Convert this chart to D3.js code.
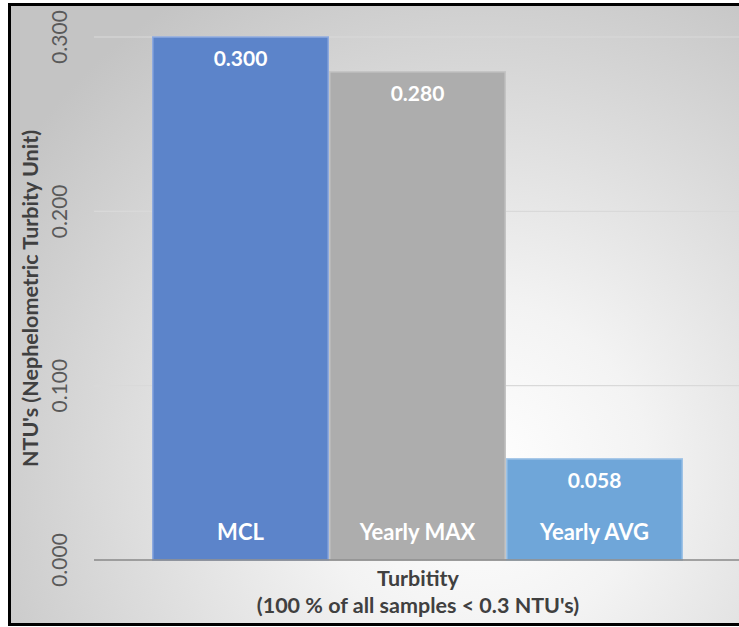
<!DOCTYPE html>
<html><head><meta charset="utf-8">
<script src="https://cdn.jsdelivr.net/npm/d3@7"></script>
<style>html,body{margin:0;padding:0;background:#fff;}svg{display:block;}</style>
</head><body>
<script>
const categories = ["MCL", "Yearly MAX", "Yearly AVG"];
const values = [0.300, 0.280, 0.058];
const valueLabels = ["0.300", "0.280", "0.058"];
const colors = ["#5c84ca", "#adadad", "#6fa6d9"];
const strokes = ["#8eaadf", "#c4c4c4", "#9fc3e6"];
const yTicks = [0, 0.1, 0.2, 0.3];
const yTitle = "NTU's (Nephelometric Turbity Unit)";
const xTitle = ["Turbitity", "(100 % of all samples < 0.3 NTU's)"];

const W = 739, H = 627;
const svg = d3.select("body").append("svg").attr("width", W).attr("height", H);
const defs = svg.append("defs");
const grad = defs.append("radialGradient").attr("id", "bg")
  .attr("gradientUnits", "userSpaceOnUse").attr("cx", 480).attr("cy", 470).attr("r", 560);
grad.append("stop").attr("offset", "0%").attr("stop-color", "#ffffff");
grad.append("stop").attr("offset", "30%").attr("stop-color", "#f3f3f3");
grad.append("stop").attr("offset", "100%").attr("stop-color", "#c4c4c4");

svg.append("rect").attr("x", 9.5).attr("y", 4.5).attr("width", W + 10).attr("height", 620)
  .attr("fill", "url(#bg)").attr("stroke", "#000").attr("stroke-width", 3);

const font = "Lato, 'Open Sans', sans-serif";
const x = d3.scaleBand().domain(categories).range([152, 683]).padding(0);
const y = d3.scaleLinear().domain([0, 0.3]).range([560, 37]);

// gridlines
svg.append("g").selectAll("line").data(yTicks.filter(t => t > 0)).join("line")
  .attr("x1", 94).attr("x2", W).attr("y1", d => y(d)).attr("y2", d => y(d))
  .attr("stroke", "#d9d9d9").attr("stroke-width", 1.2);

// bars
svg.append("g").selectAll("rect").data(categories).join("rect")
  .attr("x", d => x(d) + 0.75)
  .attr("width", x.bandwidth() - 1.5)
  .attr("y", (d, i) => y(values[i]))
  .attr("height", (d, i) => y(0) - y(values[i]))
  .attr("fill", (d, i) => colors[i])
  .attr("stroke", (d, i) => strokes[i]).attr("stroke-width", 1.5);

// baseline
svg.append("line").attr("x1", 94).attr("x2", W).attr("y1", y(0)).attr("y2", y(0))
  .attr("stroke", "#888").attr("stroke-width", 1.5);

// value labels
svg.append("g").selectAll("text").data(categories).join("text")
  .attr("x", d => x(d) + x.bandwidth() / 2)
  .attr("y", (d, i) => y(values[i]) + 29)
  .attr("text-anchor", "middle").attr("fill", "#fff")
  .attr("font-family", font).attr("font-weight", "bold").attr("font-size", 21)
  .text((d, i) => valueLabels[i]);

// category labels inside bars
svg.append("g").selectAll("text").data(categories).join("text")
  .attr("x", d => x(d) + x.bandwidth() / 2)
  .attr("y", 540)
  .attr("text-anchor", "middle").attr("fill", "#fff")
  .attr("font-family", font).attr("font-weight", "bold").attr("font-size", 22)
  .text(d => d);

// y tick labels (rotated)
svg.append("g").selectAll("text").data(yTicks).join("text")
  .attr("transform", d => `translate(67,${y(d)}) rotate(-90)`)
  .attr("text-anchor", "middle").attr("fill", "#595959")
  .attr("font-family", font).attr("font-size", 21)
  .text(d => d3.format(".3f")(d));

// y title
svg.append("text")
  .attr("transform", `translate(38,${(y(0) + y(0.3)) / 2}) rotate(-90)`)
  .attr("text-anchor", "middle").attr("fill", "#404040")
  .attr("font-family", font).attr("font-weight", "bold").attr("font-size", 21.5)
  .text(yTitle);

// x title
svg.append("g").selectAll("text").data(xTitle).join("text")
  .attr("x", 418).attr("y", (d, i) => 586 + i * 27)
  .attr("text-anchor", "middle").attr("fill", "#404040")
  .attr("font-family", font).attr("font-weight", "bold").attr("font-size", 21.5)
  .text(d => d);
</script>
</body></html>
